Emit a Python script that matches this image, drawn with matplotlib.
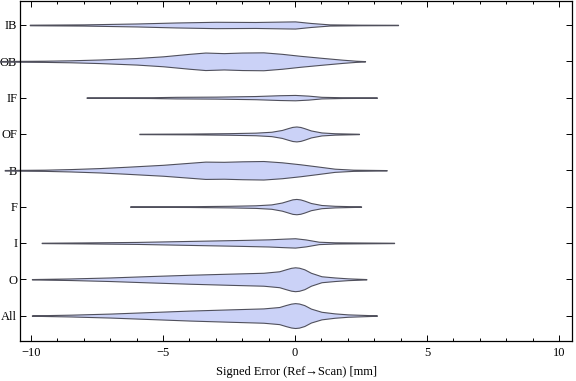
import matplotlib.pyplot as plt
import numpy as np

# categories, top to bottom
categories = ["IB", "OB", "IF", "OF", "B", "F", "I", "O", "All"]

# violin outlines: error positions [mm] and relative density (half width)
ib_x = [-10.05, -8.0, -6.0, -4.5, -3.0, -1.5, -0.3, 0.0, 0.6, 1.3, 2.5, 3.9]
ib_d = [0.3, 0.6, 1.5, 2.5, 3.2, 3.0, 3.5, 3.6, 2.0, 0.6, 0.3, 0.2]

ob_x = [-11.2, -9.5, -8.5, -7.4, -6.0, -5.0, -4.0, -3.4, -2.7, -2.0, -1.2, -0.5, 0.2, 1.0, 1.8, 2.3, 2.65]
ob_d = [0.3, 0.6, 1.0, 1.8, 3.3, 5.0, 7.5, 8.8, 8.2, 8.8, 9.0, 7.5, 5.5, 3.5, 1.6, 0.6, 0.2]

if_x = [-7.9, -5.5, -4.5, -3.0, -1.5, -0.6, 0.0, 0.5, 1.0, 1.8, 3.1]
if_d = [0.2, 0.4, 0.8, 1.0, 1.6, 2.4, 2.7, 2.0, 0.8, 0.4, 0.2]

of_x = [-5.9, -4.0, -2.5, -1.5, -0.9, -0.5, -0.25, -0.1, 0.05, 0.2, 0.35, 0.6, 1.0, 1.5, 2.42]
of_d = [0.2, 0.4, 0.8, 1.3, 2.2, 4.0, 6.0, 7.1, 7.5, 7.0, 5.8, 3.5, 1.5, 0.7, 0.2]

b_x = [-11.0, -9.5, -8.5, -7.4, -6.4, -5.0, -4.0, -3.4, -2.7, -2.0, -1.2, -0.5, 0.2, 0.8, 1.5, 2.2, 3.47]
b_d = [0.3, 0.6, 1.2, 2.2, 3.5, 5.5, 7.5, 8.7, 8.5, 9.0, 9.3, 8.0, 6.0, 4.0, 1.6, 0.6, 0.2]

f_x = [-6.25, -4.0, -2.5, -1.5, -0.9, -0.5, -0.25, -0.1, 0.05, 0.2, 0.35, 0.6, 1.0, 1.5, 2.5]
f_d = [0.2, 0.4, 0.8, 1.3, 2.2, 4.1, 6.1, 7.3, 7.7, 7.2, 6.0, 3.6, 1.6, 0.8, 0.2]

i_x = [-9.6, -8.0, -6.0, -4.0, -2.0, -1.0, -0.4, 0.0, 0.4, 0.9, 1.5, 3.75]
i_d = [0.2, 0.5, 1.0, 2.0, 3.0, 3.6, 4.3, 4.7, 3.5, 1.2, 0.6, 0.2]

o_x = [-9.97, -8.5, -7.0, -5.5, -4.0, -2.5, -1.2, -0.6, -0.35, -0.15, 0.0, 0.15, 0.35, 0.6, 1.0, 1.5, 2.0, 2.7]
o_d = [0.2, 0.8, 1.8, 3.2, 4.5, 5.6, 6.5, 8.0, 10.0, 11.5, 12.0, 11.6, 10.0, 6.5, 3.0, 1.8, 0.9, 0.2]

all_x = [-9.97, -8.5, -7.0, -5.5, -4.0, -2.5, -1.2, -0.6, -0.35, -0.15, 0.0, 0.15, 0.35, 0.6, 1.0, 1.5, 2.0, 3.1]
all_d = [0.2, 0.9, 2.0, 3.5, 5.0, 6.2, 7.2, 8.6, 10.6, 12.0, 12.5, 12.1, 10.5, 7.0, 3.8, 2.2, 1.2, 0.2]

xs = [ib_x, ob_x, if_x, of_x, b_x, f_x, i_x, o_x, all_x]
ds = [ib_d, ob_d, if_d, of_d, b_d, f_d, i_d, o_d, all_d]

plt.rcParams["font.family"] = ["Liberation Serif", "DejaVu Serif"]
plt.rcParams["font.size"] = 9

fig = plt.figure(figsize=(5.76, 3.81), dpi=100)
ax = fig.add_axes([20 / 576, 40 / 381, 552 / 576, 340 / 381])

scale = 1 / 36.5  # density -> category units
n = len(categories)
positions = np.arange(n, 0, -1)

for pos, x, d in zip(positions, xs, ds):
    x = np.array(x)
    w = np.array(d) * scale
    ax.fill_between(x, pos - w, pos + w, facecolor="#cbd2f7", edgecolor="#50505c",
                    linewidth=0.8, clip_on=False, zorder=2)

ax.set_xlim(-10.42, 10.49)
ax.set_ylim(0.3, n + 0.66)
ax.set_xticks([-10, -5, 0, 5, 10])
ax.set_xticks(np.arange(-10, 11, 1), minor=True)
ax.set_yticks(positions)
ax.set_yticklabels(categories)
ax.tick_params(which="both", direction="in", top=True, right=True, width=0.7)
ax.tick_params(axis="x", which="major", length=4, pad=4)
ax.tick_params(axis="x", which="minor", length=2.2)
ax.tick_params(axis="y", length=4, pad=2)
for s in ax.spines.values():
    s.set_linewidth(0.9)
ax.set_xlabel("Signed Error (Ref\u2192Scan) [mm]", labelpad=5)

fig.savefig("out.png", dpi=100)
